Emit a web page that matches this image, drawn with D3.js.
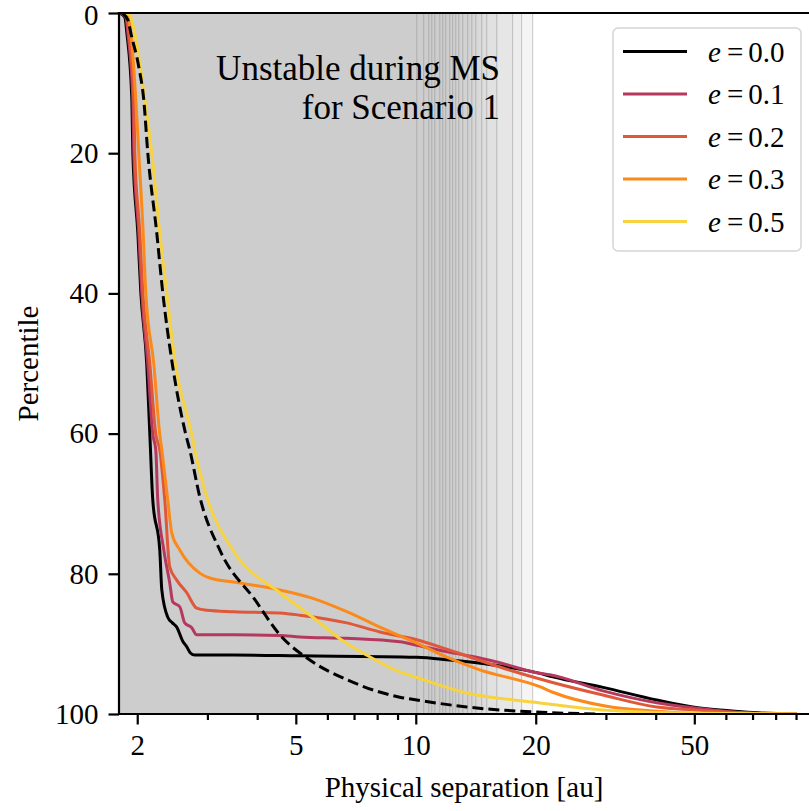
<!DOCTYPE html>
<html>
<head>
<meta charset="utf-8">
<script src="https://cdn.jsdelivr.net/npm/d3@7"></script>
<style>
  html, body { margin: 0; padding: 0; background: #fff; }
  svg { display: block; font-family: 'Liberation Serif', 'Times New Roman', serif; }
</style>
</head>
<body>
<div id="chart"></div>
<script>
// separation [au] vs percentile
const sepE00 = [1.809, 1.862, 1.884, 1.939, 1.950, 2.007, 2.042, 2.113, 2.151, 2.188, 2.278, 2.305, 2.386, 2.45, 2.513, 2.60, 2.662, 2.72, 2.788, 3.5, 5.117, 10.06, 12.17, 15.61, 20.47, 22.07, 29.5, 40.24, 49.54, 60.28, 70.07, 90.33];
const pctE00 = [0, 0.6, 2.9, 12.4, 20.0, 31.4, 39.9, 50.1, 60.1, 69.5, 76.6, 82.3, 86.2, 87.0, 87.6, 89.6, 90.4, 91.3, 91.6, 91.6, 91.7, 91.9, 92.3, 93.0, 94.2, 94.7, 96.2, 98.0, 99.0, 99.5, 99.8, 100];

const sepE01 = [1.820, 1.873, 1.895, 1.950, 1.961, 2.018, 2.053, 2.126, 2.188, 2.226, 2.252, 2.332, 2.413, 2.456, 2.557, 2.632, 2.740, 2.820, 3.5, 4.559, 5.117, 6.713, 9.119, 10.06, 12.17, 14.47, 16.25, 20.47, 21.69, 29.5, 40.24, 49.54, 70.07, 90.33];
const pctE01 = [0, 0.6, 2.9, 12.4, 20.0, 31.4, 39.9, 50.1, 60.1, 62.3, 69.5, 76.6, 81.3, 84.0, 84.7, 87.0, 87.7, 88.7, 88.7, 88.8, 89.0, 89.2, 89.7, 90.2, 91.2, 92.0, 92.7, 94.2, 94.4, 96.7, 98.4, 99.1, 99.9, 100];

const sepE02 = [1.830, 1.884, 1.905, 1.961, 1.972, 2.030, 2.065, 2.151, 2.226, 2.278, 2.345, 2.413, 2.513, 2.662, 2.820, 2.989, 3.5, 4.559, 5.117, 6.713, 8.124, 10.06, 12.17, 16.25, 21.69, 29.5, 40.24, 49.54, 70.07, 90.33];
const pctE02 = [0, 0.6, 2.9, 12.4, 20.0, 31.4, 39.9, 50.1, 60.1, 62.3, 69.5, 79.0, 80.9, 82.7, 84.9, 85.2, 85.4, 85.6, 85.9, 87.0, 88.3, 89.4, 90.9, 93.3, 95.4, 97.3, 99.0, 99.4, 99.9, 100];

const sepE03 = [1.841, 1.895, 1.928, 1.984, 2.018, 2.070, 2.101, 2.201, 2.278, 2.305, 2.386, 2.442, 2.557, 2.870, 3.041, 3.619, 4.559, 5.517, 6.713, 8.124, 10.06, 11.96, 14.47, 20.47, 22.07, 30.14, 40.24, 49.54, 90.33];
const pctE03 = [0, 0.6, 2.9, 12.4, 20.0, 31.4, 39.9, 50.1, 60.1, 62.3, 69.5, 74.2, 76.6, 79.9, 80.6, 81.3, 82.3, 83.5, 85.4, 87.6, 89.9, 91.9, 93.7, 96.1, 96.9, 98.9, 99.6, 99.9, 100];

const sepE05 = [1.862, 1.916, 1.972, 2.089, 2.176, 2.278, 2.372, 2.484, 2.740, 2.788, 2.989, 3.475, 4.559, 5.517, 6.5, 7.536, 9.119, 10.06, 13.42, 19.66, 28.94, 49.54, 90.33];
const pctE05 = [0, 0.3, 2.9, 12.4, 20.0, 31.4, 39.9, 49.5, 60.1, 62.3, 69.0, 76.6, 82.7, 86.2, 89.4, 91.6, 94.0, 94.8, 97.0, 98.3, 99.4, 99.9, 100];

// dashed reference curve (no legend entry)
const sepRef = [1.830, 1.895, 1.928, 2.018, 2.077, 2.126, 2.239, 2.318, 2.45, 2.647, 2.709, 2.870, 3.222, 3.947, 4.559, 5.422, 6.713, 9.119, 10.06, 13.42, 19.66, 28.94];
const pctRef = [0, 1.0, 2.9, 7.7, 12.4, 20.0, 31.4, 39.9, 50.1, 60.1, 62.3, 69.0, 76.6, 83.7, 88.7, 92.3, 95.1, 97.6, 98.0, 99.0, 99.7, 100];

// outer edges of the "unstable during MS" region [au]
const unstableEdges = [10.06, 10.47, 10.78, 10.97, 11.16, 11.49, 11.69, 11.89, 12.17, 12.38, 12.60, 12.82, 13.12, 13.50, 13.83, 14.15, 14.64, 15.07, 15.97, 17.50, 18.43, 19.65];

const eccLabels = ['0.0', '0.1', '0.2', '0.3', '0.5'];
const eccColors = ['#000000', '#b5395f', '#e0583a', '#fb8a1a', '#f7d33f'];
const xTicks = [2, 5, 10, 20, 50];
const xMinorTicks = [3, 4, 6, 7, 8, 9, 30, 40, 60, 70, 80, 90];
const yTicks = [0, 20, 40, 60, 80, 100];

const width = 809;
const height = 811;
const margin = { top: 13, right: 0, bottom: 97, left: 119 };
const fontSize = 29;

const svg = d3.select('#chart')
    .append('svg')
    .attr('width', width)
    .attr('height', height);

const x = d3.scaleLog()
    .domain([1.8, 97])
    .range([margin.left, width - margin.right]);

const y = d3.scaleLinear()
    .domain([0, 100])
    .range([margin.top, height - margin.bottom]);

svg.append('clipPath')
    .attr('id', 'plot-clip')
    .append('rect')
    .attr('x', margin.left)
    .attr('y', margin.top)
    .attr('width', width - margin.left - margin.right)
    .attr('height', y(100) - y(0));

const plot = svg.append('g').attr('clip-path', 'url(#plot-clip)');

// stacked translucent spans -> solid grey that fades out between 10 and 20 au
plot.selectAll('.span')
    .data(unstableEdges)
    .enter().append('rect')
    .attr('class', 'span')
    .attr('x', x(1.8))
    .attr('y', y(0))
    .attr('width', d => x(d) - x(1.8))
    .attr('height', y(100) - y(0))
    .style('fill', '#cccccc')
    .style('fill-opacity', 0.2);

plot.selectAll('.span-edge')
    .data(unstableEdges)
    .enter().append('line')
    .attr('class', 'span-edge')
    .attr('x1', d => x(d))
    .attr('x2', d => x(d))
    .attr('y1', y(0))
    .attr('y2', y(100))
    .style('stroke', '#808080')
    .style('stroke-opacity', 0.4)
    .style('stroke-width', 1);

svg.append('text')
    .attr('text-anchor', 'end')
    .attr('font-size', 35)
    .selectAll('tspan')
    .data(['Unstable during MS', 'for Scenario 1'])
    .enter().append('tspan')
    .attr('x', 500)
    .attr('y', (d, i) => 80 + i * 39)
    .text(d => d);

const line = d3.line()
    .x(d => x(d[0]))
    .y(d => y(d[1]))
    .curve(d3.curveMonotoneX);

const series = [
    d3.zip(sepE00, pctE00),
    d3.zip(sepE01, pctE01),
    d3.zip(sepE02, pctE02),
    d3.zip(sepE03, pctE03),
    d3.zip(sepE05, pctE05)
];

plot.selectAll('.curve')
    .data(series)
    .enter().append('path')
    .attr('class', 'curve')
    .attr('d', line)
    .style('fill', 'none')
    .style('stroke', (d, i) => eccColors[i])
    .style('stroke-width', 3);

plot.append('path')
    .datum(d3.zip(sepRef, pctRef))
    .attr('d', line)
    .style('fill', 'none')
    .style('stroke', '#000')
    .style('stroke-width', 3)
    .style('stroke-dasharray', '11,5');

// axes
svg.append('g')
    .attr('class', 'x-axis')
    .attr('transform', `translate(0,${y(100)})`)
    .call(d3.axisBottom(x).tickValues(xTicks).tickFormat(d3.format('d')).tickSize(10.5).tickPadding(10));

svg.append('g')
    .attr('class', 'x-minor')
    .attr('transform', `translate(0,${y(100)})`)
    .call(d3.axisBottom(x).tickValues(xMinorTicks).tickFormat('').tickSize(6));

svg.append('g')
    .attr('class', 'y-axis')
    .attr('transform', `translate(${margin.left},0)`)
    .call(d3.axisLeft(y).tickValues(yTicks).tickSize(10.5).tickPadding(10));

svg.selectAll('.x-axis .domain, .x-minor .domain, .y-axis .domain').remove();

// the "0" label sits right at the top edge, nudge it down a touch
svg.selectAll('.y-axis .tick text')
    .filter(d => d === 0)
    .attr('dy', '0.4em');

// spines
svg.append('line')
    .attr('x1', margin.left).attr('x2', width)
    .attr('y1', y(0)).attr('y2', y(0));
svg.append('line')
    .attr('x1', margin.left).attr('x2', width)
    .attr('y1', y(100)).attr('y2', y(100));
svg.append('line')
    .attr('x1', margin.left).attr('x2', margin.left)
    .attr('y1', y(0)).attr('y2', y(100));
svg.selectAll(':scope > line')
    .style('stroke', '#000')
    .style('stroke-width', 2.2)
    .style('stroke-linecap', 'square');

svg.selectAll('.tick line')
    .style('stroke', '#000')
    .style('stroke-width', 2.2);

svg.selectAll('.tick text')
    .style('font-family', "'Liberation Serif', serif")
    .style('font-size', fontSize + 'px')
    .style('fill', '#000');

svg.append('text')
    .attr('x', (margin.left + width) / 2)
    .attr('y', 797)
    .attr('text-anchor', 'middle')
    .attr('font-size', fontSize)
    .text('Physical separation [au]');

svg.append('text')
    .attr('transform', `translate(38,${(y(0) + y(100)) / 2}) rotate(-90)`)
    .attr('text-anchor', 'middle')
    .attr('font-size', fontSize)
    .text('Percentile');

// legend
const legend = svg.append('g').attr('class', 'legend');
legend.append('rect')
    .attr('x', 613)
    .attr('y', 28)
    .attr('width', 188)
    .attr('height', 223)
    .attr('rx', 5)
    .style('fill', '#fff')
    .style('fill-opacity', 0.85)
    .style('stroke', '#d5d5d5')
    .style('stroke-width', 1.5);

const rows = legend.selectAll('.row')
    .data(eccLabels)
    .enter().append('g')
    .attr('class', 'row')
    .attr('transform', (d, i) => `translate(0,${51.5 + i * 42.5})`);

rows.append('line')
    .attr('x1', 623).attr('x2', 687)
    .style('stroke', (d, i) => eccColors[i])
    .style('stroke-width', 3);

const label = rows.append('text')
    .attr('x', 708)
    .attr('y', 10)
    .attr('font-size', fontSize);
label.append('tspan').attr('font-style', 'italic').text('e');
label.append('tspan').attr('dx', 6).text('=');
label.append('tspan').attr('dx', 5).text(d => d);
</script>
</body>
</html>
